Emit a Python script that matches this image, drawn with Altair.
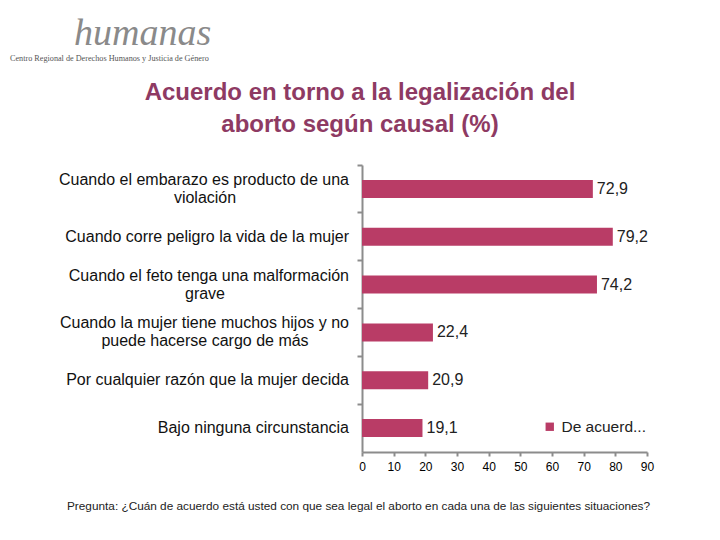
import altair as alt
import pandas as pd

# ---- data ----
categories = [
    "Cuando el embarazo es producto de una violación",
    "Cuando corre peligro la vida de la mujer",
    "Cuando el feto tenga una malformación grave",
    "Cuando la mujer tiene muchos hijos y no puede hacerse cargo de más",
    "Por cualquier razón que la mujer decida",
    "Bajo ninguna circunstancia",
]
label_line1 = [
    "Cuando el embarazo es producto de una",
    "Cuando corre peligro la vida de la mujer",
    "Cuando el feto tenga una malformación",
    "Cuando la mujer tiene muchos hijos y no",
    "Por cualquier razón que la mujer decida",
    "Bajo ninguna circunstancia",
]
label_line2 = ["violación", "", "grave", "puede hacerse cargo de más", "", ""]
values = [72.9, 79.2, 74.2, 22.4, 20.9, 19.1]
series_name = "De acuerd..."
x_ticks = [0, 10, 20, 30, 40, 50, 60, 70, 80, 90]

title_lines = ["Acuerdo en torno a la legalización del", "aborto según causal (%)"]
footnote = "Pregunta: ¿Cuán de acuerdo está usted con que sea legal el aborto en cada una de las siguientes situaciones?"
logo_word = "humanas"
logo_sub = "Centro Regional de Derechos Humanos y Justicia de Género"

df = pd.DataFrame({
    "categoria": categories,
    "line1": label_line1,
    "line2": label_line2,
    "valor": values,
    "serie": [series_name] * len(categories),
})

FONT = "Liberation Sans"
BAR = "#b93c66"
AXIS = "#8c8c8c"
LBL = 16

yaxis = alt.Axis(
    title=None, labels=False, bandPosition=0, ticks=True, tickSize=5,
    tickColor=AXIS, domainColor=AXIS, domainWidth=2, tickWidth=2,
)
yscale = alt.Scale(paddingInner=0, paddingOuter=0)
xaxis = alt.Axis(
    title=None, values=x_ticks, grid=False, labelFontSize=12, labelColor="#000",
    labelFont=FONT, tickSize=4, tickColor=AXIS, domainColor=AXIS, domainWidth=2,
    tickWidth=2, labelPadding=5, labelOverlap=False, labelFlush=False,
)
xscale = alt.Scale(domain=[0, 90], nice=False)


def X():
    return alt.X("valor:Q", scale=xscale, axis=xaxis)


def Y():
    return alt.Y("categoria:N", sort=categories, scale=yscale, axis=yaxis)


base = alt.Chart(df)

bars = base.mark_bar(size=18).encode(
    x=X(),
    y=Y(),
    color=alt.Color(
        "serie:N",
        scale=alt.Scale(range=[BAR]),
        legend=alt.Legend(
            title=None, orient="none", legendX=180, legendY=254,
            symbolType="square", symbolSize=70, labelFontSize=15.5,
            labelFont=FONT, labelColor="#222", labelLimit=200,
        ),
    ),
)

value_labels = base.mark_text(
    align="left", baseline="middle", dx=4, fontSize=LBL, font=FONT, color="#222"
).encode(
    x=X(),
    y=Y(),
    text=alt.Text("txt:N"),
).transform_calculate(txt="replace(format(datum.valor, '.1f'), '.', ',')")

single = base.transform_filter("datum.line2 == ''").mark_text(
    align="right", baseline="middle", fontSize=LBL, font=FONT, color="#111"
).encode(
    x=alt.value(-13),
    y=Y(),
    text="line1:N",
)
double1 = base.transform_filter("datum.line2 != ''").mark_text(
    align="right", baseline="middle", dy=-9, fontSize=LBL, font=FONT, color="#111"
).encode(
    x=alt.value(-13),
    y=Y(),
    text="line1:N",
)
double2 = base.transform_filter("datum.line2 != ''").mark_text(
    align="center", baseline="middle", dy=9, fontSize=LBL, font=FONT, color="#111"
).encode(
    x=alt.value(-157),
    y=Y(),
    text="line2:N",
)

title1 = alt.Chart(pd.DataFrame({"t": [title_lines[0]]})).mark_text(
    align="center", baseline="middle", fontSize=24, fontWeight="bold", font=FONT, color="#8e3a63"
).encode(x=alt.value(-2), y=alt.value(-72), text="t:N")
title2 = alt.Chart(pd.DataFrame({"t": [title_lines[1]]})).mark_text(
    align="center", baseline="middle", fontSize=24, fontWeight="bold", font=FONT, color="#8e3a63"
).encode(x=alt.value(-2), y=alt.value(-40), text="t:N")

foot = alt.Chart(pd.DataFrame({"t": [footnote]})).mark_text(
    align="left", baseline="middle", fontSize=11.8, font=FONT, color="#222"
).encode(x=alt.value(-295), y=alt.value(341), text="t:N")

logo1 = alt.Chart(pd.DataFrame({"t": [logo_word]})).mark_text(
    align="left", baseline="alphabetic", fontSize=38, fontStyle="italic",
    font="Liberation Serif", color="#8a8a8a",
).encode(x=alt.value(-288), y=alt.value(-120), text="t:N")
logo2 = alt.Chart(pd.DataFrame({"t": [logo_sub]})).mark_text(
    align="left", baseline="middle", fontSize=8.2, font="Liberation Serif", color="#555",
).encode(x=alt.value(-352), y=alt.value(-106), text="t:N")

chart = alt.layer(
    bars, value_labels, single, double1, double2, title1, title2, foot, logo1, logo2
).properties(
    width=285, height=287,
    padding={"left": 354, "top": 157, "right": 65, "bottom": 80},
    autosize=alt.AutoSizeParams(type="none"),
    background="white",
).configure_view(stroke=None)

chart.save("out.html", embed_options={"renderer": "svg", "actions": False})
